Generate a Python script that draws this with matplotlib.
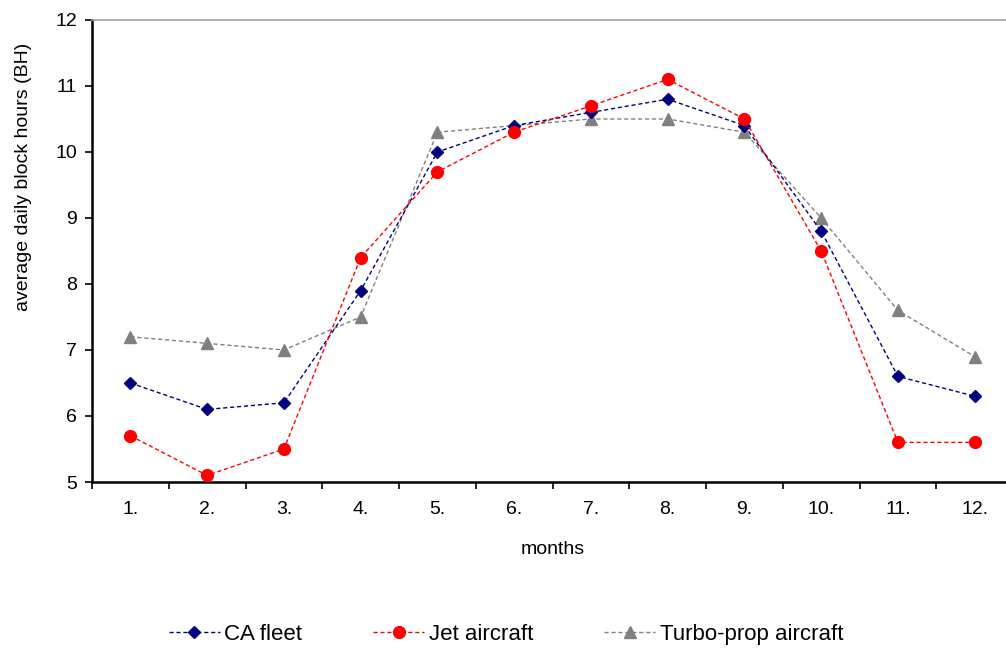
import matplotlib.pyplot as plt
from matplotlib.ticker import FixedLocator, NullFormatter

plt.rcParams["font.family"] = ["Liberation Sans", "DejaVu Sans"]

months = ["1.", "2.", "3.", "4.", "5.", "6.", "7.", "8.", "9.", "10.", "11.", "12."]
ca_fleet = [6.5, 6.1, 6.2, 7.9, 10.0, 10.4, 10.6, 10.8, 10.4, 8.8, 6.6, 6.3]
jet_aircraft = [5.7, 5.1, 5.5, 8.4, 9.7, 10.3, 10.7, 11.1, 10.5, 8.5, 5.6, 5.6]
turboprop = [7.2, 7.1, 7.0, 7.5, 10.3, 10.4, 10.5, 10.5, 10.3, 9.0, 7.6, 6.9]

x = list(range(1, len(months) + 1))

fig = plt.figure(figsize=(10.06, 6.51), dpi=100)
ax = fig.add_axes([0.0915, 0.2596, 0.9155, 0.7097])

dash = (0, (3, 2))
ax.plot(x, turboprop, color="#808080", lw=1, ls=dash, marker="^", ms=8.5,
        markeredgecolor="#808080", label="Turbo-prop aircraft", zorder=2)
ax.plot(x, ca_fleet, color="#000080", lw=1, ls=dash, marker="D", ms=6.2,
        markeredgecolor="#000080", label="CA fleet", zorder=3)
ax.plot(x, jet_aircraft, color="#ff0000", lw=1, ls=dash, marker="o", ms=8.5,
        markeredgecolor="#ff0000", label="Jet aircraft", zorder=4)

ax.set_xlim(0.5, 12.5)
ax.set_ylim(5, 12)
ax.set_yticks(range(5, 13))

# ticks between categories, labels at the categories (excel style)
ax.xaxis.set_major_locator(FixedLocator([i + 0.5 for i in range(0, 13)]))
ax.xaxis.set_major_formatter(NullFormatter())
ax.xaxis.set_minor_locator(FixedLocator(x))
ax.set_xticklabels(months, minor=True)
ax.tick_params(axis="x", which="minor", length=0, pad=14, labelsize=14)
ax.tick_params(axis="x", which="major", direction="out", length=5, width=1.2)
ax.tick_params(axis="y", direction="out", length=5, width=1.2, labelsize=14, pad=6)

for side in ["left", "bottom"]:
    ax.spines[side].set_linewidth(1.8)
    ax.spines[side].set_color("black")
ax.spines["top"].set_color("#a0a0a0")
ax.spines["top"].set_linewidth(1.2)
ax.spines["right"].set_color("#a0a0a0")

ax.set_xlabel("months", fontsize=14, labelpad=16)
ax.set_ylabel("average daily block hours (BH)", fontsize=14)
ax.yaxis.set_label_coords(-0.065, 0.66)

handles, labels = ax.get_legend_handles_labels()
order = [1, 2, 0]
fig.legend([handles[i] for i in order], [labels[i] for i in order],
           loc="center", bbox_to_anchor=(0.503, 0.026), ncol=3, frameon=False,
           fontsize=16, handlelength=2.3, handletextpad=0.2, columnspacing=3.2)

fig.savefig("out.png", dpi=100)
